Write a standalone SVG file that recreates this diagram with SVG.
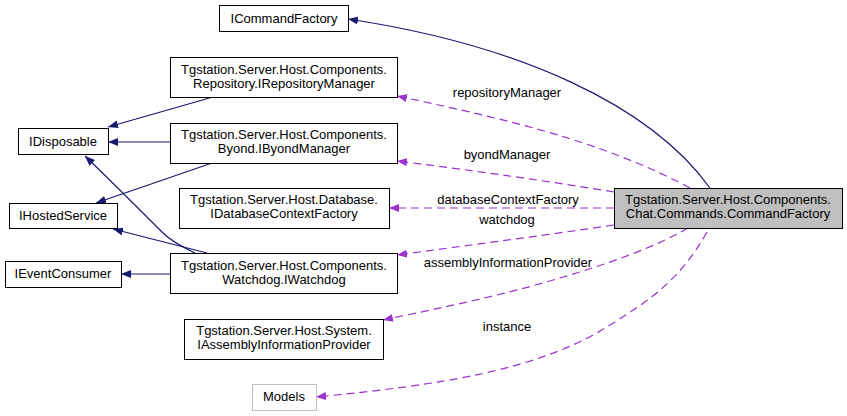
<svg xmlns="http://www.w3.org/2000/svg" width="847" height="416" viewBox="0 0 847 416">
<style>
.n rect{fill:#fff;stroke:#000;stroke-width:1}
.n.g rect{stroke:#bfbfbf}
.n.f rect{fill:#bfbfbf}
text{font-family:"Liberation Sans",Arial,sans-serif;font-size:13px;text-anchor:middle;fill:#000}
.s{fill:none;stroke:#191970;stroke-width:1.2}
.d{fill:none;stroke:#9a32cd;stroke-width:1.2;stroke-dasharray:8,5}
</style>
<defs>
<marker id="an" viewBox="0 0 10 8" refX="10" refY="4" markerWidth="10" markerHeight="8" markerUnits="userSpaceOnUse" orient="auto"><path d="M0,0L10,4L0,8Z" fill="#191970"/></marker>
<marker id="ap" viewBox="0 0 10 8" refX="10" refY="4" markerWidth="10" markerHeight="8" markerUnits="userSpaceOnUse" orient="auto"><path d="M0,0L10,4L0,8Z" fill="#9a32cd"/></marker>
</defs>
<rect width="847" height="416" fill="#fff"/>
<g id="connectors">
<path class="s" marker-end="url(#an)" d="M710,188 C650,105 520,45 348,19"/>
<path class="s" marker-end="url(#an)" d="M213,97 L108,127"/>
<path class="s" marker-end="url(#an)" d="M170,142 L108,142"/>
<path class="s" marker-end="url(#an)" d="M212,163 L96,203"/>
<path class="s" marker-end="url(#an)" d="M195,253 C180,246 170,240 162,232 C140,210 110,180 85,156"/>
<path class="s" marker-end="url(#an)" d="M207,253 L113,229"/>
<path class="s" marker-end="url(#an)" d="M170,274 L121,274"/>
<path class="d" marker-end="url(#ap)" d="M690,188 C600,140 500,118 397,96"/>
<path class="d" marker-end="url(#ap)" d="M614,192 C540,180 470,170 397,161"/>
<path class="d" marker-end="url(#ap)" d="M614,208 L389,208"/>
<path class="d" marker-end="url(#ap)" d="M614,225 C540,236 470,245 397,255"/>
<path class="d" marker-end="url(#ap)" d="M688,228 C650,250 600,266 560,278 C500,296 440,308 383,320"/>
<path class="d" marker-end="url(#ap)" d="M707,232 C680,280 650,300 610,325 C540,370 440,385 316,397"/>
</g>
<g id="n_cmdfactory" class="n"><rect x="219.5" y="5.5" width="129" height="26"/><text x="284" y="23">ICommandFactory</text></g>
<g id="n_repo" class="n"><rect x="170.5" y="57.5" width="227" height="40"/><text x="284" y="74">Tgstation.Server.Host.Components.</text><text x="284" y="88">Repository.IRepositoryManager</text></g>
<g id="n_disposable" class="n"><rect x="18.5" y="128.5" width="90" height="26"/><text x="63" y="146">IDisposable</text></g>
<g id="n_byond" class="n"><rect x="170.5" y="123.5" width="227" height="40"/><text x="284" y="139">Tgstation.Server.Host.Components.</text><text x="284" y="153">Byond.IByondManager</text></g>
<g id="n_db" class="n"><rect x="179.5" y="188.5" width="210" height="40"/><text x="284" y="204">Tgstation.Server.Host.Database.</text><text x="284" y="218">IDatabaseContextFactory</text></g>
<g id="n_hosted" class="n"><rect x="9.5" y="203.5" width="108" height="25"/><text x="63" y="220">IHostedService</text></g>
<g id="n_event" class="n"><rect x="5.5" y="261.5" width="116" height="26"/><text x="63" y="278">IEventConsumer</text></g>
<g id="n_watchdog" class="n"><rect x="170.5" y="253.5" width="227" height="40"/><text x="284" y="270">Tgstation.Server.Host.Components.</text><text x="284" y="284">Watchdog.IWatchdog</text></g>
<g id="n_assembly" class="n"><rect x="184.5" y="319.5" width="199" height="40"/><text x="284" y="335">Tgstation.Server.Host.System.</text><text x="284" y="349">IAssemblyInformationProvider</text></g>
<g id="n_models" class="n g"><rect x="252.5" y="384.5" width="64" height="26"/><text x="284" y="401">Models</text></g>
<g id="n_main" class="n f"><rect x="614.5" y="188.5" width="228" height="40"/><text x="728" y="204">Tgstation.Server.Host.Components.</text><text x="728" y="218">Chat.Commands.CommandFactory</text></g>
<g id="labels">
<text x="507" y="97">repositoryManager</text>
<text x="507" y="159">byondManager</text>
<text x="508" y="204">databaseContextFactory</text>
<text x="507" y="224">watchdog</text>
<text x="508" y="267">assemblyInformationProvider</text>
<text x="507" y="331">instance</text>
</g>
</svg>
